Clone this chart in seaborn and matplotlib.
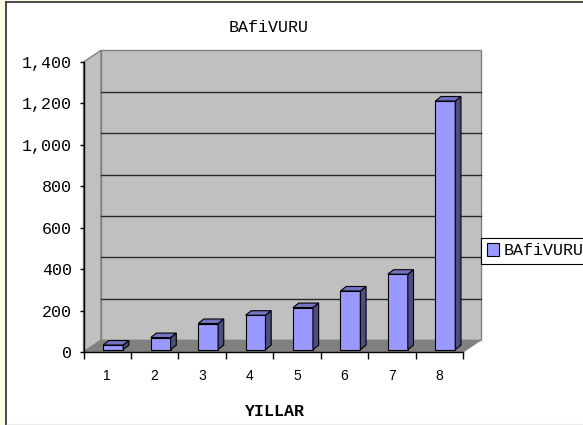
import numpy as np
import pandas as pd
import matplotlib
matplotlib.use("Agg")
import matplotlib.pyplot as plt
import seaborn as sns
from matplotlib.patches import Polygon, Rectangle
from matplotlib.lines import Line2D
from matplotlib.transforms import ScaledTranslation

# ---- data ----
years = ["1", "2", "3", "4", "5", "6", "7", "8"]
values = [22, 58, 126, 166, 203, 283, 364, 1200]
series_name = "BAfiVURU"
title_text = "BAfiVURU"
x_title = "YILLAR"
y_ticks = [0, 200, 400, 600, 800, 1000, 1200, 1400]
y_tick_labels = [f"{v:,}" for v in y_ticks]

plt.rcParams["font.family"] = ["Liberation Mono", "DejaVu Sans Mono"]

W, H = 583, 425
fig = plt.figure(figsize=(W / 100, H / 100), dpi=100)
fig.patch.set_facecolor("white")

# axes frame in pixels (front plane)
L, R, B, T = 83.5, 463.0, 352.0, 62.0
ax = fig.add_axes([L / W, 1 - B / H, (R - L) / W, (B - T) / H])
ax.set_facecolor("none")

df = pd.DataFrame({"Yil": years, "Basvuru": values})
sns.barplot(data=df, x="Yil", y="Basvuru", color="#9999ff", saturation=1,
            width=0.42, edgecolor="black", linewidth=0.8, label=series_name,
            ax=ax, zorder=5)

ax.set_xlim(-0.5, 7.5)
ax.set_ylim(0, 1400)

pxx = (R - L) / 8.0
pxy = (B - T) / 1400.0
DX = 17.5 / pxx
DY = 11.7 / pxy

# ---- 3D bar faces ----
off = ax.transData + ScaledTranslation(6 / 100, 2.4 / 100, fig.dpi_scale_trans)
sdx = 5.7 / pxx
sdy = 4.5 / pxy
for p in list(ax.containers[0]):
    x0 = p.get_x(); w = p.get_width(); h = p.get_height()
    p.set_transform(off)
    p.set_clip_on(False)
    side = Polygon([(x0 + w, 0), (x0 + w, h), (x0 + w + sdx, h + sdy), (x0 + w + sdx, sdy)],
                   closed=True, fc="#4d4d80", ec="black", lw=0.8, transform=off,
                   zorder=5, clip_on=False)
    top = Polygon([(x0, h), (x0 + w, h), (x0 + w + sdx, h + sdy), (x0 + sdx, h + sdy)],
                  closed=True, fc="#7373c0", ec="black", lw=0.8, transform=off,
                  zorder=5, clip_on=False)
    ax.add_patch(side)
    ax.add_patch(top)

# ---- walls and floor ----
ax.add_patch(Rectangle((-0.5 + DX, DY), 8, 1400, fc="#c0c0c0", ec="#808080", lw=1,
                       clip_on=False, zorder=0.5))
ax.add_patch(Polygon([(-0.5, 0), (-0.5, 1400), (-0.5 + DX, 1400 + DY), (-0.5 + DX, DY)],
                     closed=True, fc="#c0c0c0", ec="#808080", lw=1, clip_on=False, zorder=0.6))
for v in y_ticks[1:-1]:
    ax.plot([-0.5 + DX, 7.5 + DX], [v + DY, v + DY], color="#2a2a2a", lw=1,
            clip_on=False, zorder=0.7)
ax.add_patch(Polygon([(-0.5, 0), (7.5, 0), (7.5 + DX, DY), (-0.5 + DX, DY)],
                     closed=True, fc="#808080", ec="#808080", lw=0.8, clip_on=False, zorder=1))

# ---- axes styling ----
for s in ["top", "right"]:
    ax.spines[s].set_visible(False)
for s in ["left", "bottom"]:
    ax.spines[s].set_color("black")
    ax.spines[s].set_linewidth(1)
    ax.spines[s].set_zorder(2)

ax.set_yticks(y_ticks)
ax.set_yticklabels(y_tick_labels)
ax.tick_params(axis="y", direction="out", length=3, width=1, color="black",
               labelsize=12, pad=5.5)

ax.set_xticks(range(len(years)))
ax.set_xticklabels(years, family=["Liberation Sans", "DejaVu Sans"], fontsize=10)
ax.tick_params(axis="x", which="major", length=0, pad=12)
ax.set_xticks(np.arange(-0.5, 8, 1), minor=True)
ax.tick_params(axis="x", which="minor", direction="out", length=5, width=1, color="black")

ax.set_ylabel("")
ax.set_xlabel(x_title, fontweight="bold", fontsize=12, va="center")
ax.xaxis.set_label_coords((274 - L) / (R - L), -(411.7 - B) / (B - T))

ax.set_title(title_text, x=(269 - L) / (R - L), y=1 + (T - 27.3) / (B - T),
             va="center", fontsize=12, pad=0)

# ---- legend ----
handles, labels = ax.get_legend_handles_labels()
leg = ax.legend(handles, labels, loc="upper left",
                bbox_to_anchor=(481 / W, 1 - 237.7 / H), bbox_transform=fig.transFigure,
                borderaxespad=0, frameon=True, fancybox=False, edgecolor="black",
                framealpha=1, handlelength=0.72, handleheight=0.75, handletextpad=0.32,
                borderpad=0.34, fontsize=12)
leg.get_frame().set_linewidth(0.8)
leg.set_zorder(20)

# ---- outer frame ----
fig.add_artist(Rectangle((0, 0), 5.5 / W, 1, transform=fig.transFigure,
                         fc="#fffce6", ec="none", zorder=-10))
fig.add_artist(Rectangle((0, 1 - 1.4 / H), 1, 1.4 / H, transform=fig.transFigure,
                         fc="#fffce6", ec="none", zorder=-10))
fig.add_artist(Line2D([6.3 / W, 6.3 / W], [0, 1 - 2.1 / H], transform=fig.transFigure,
                      color="#3c3c3c", lw=1.3))
fig.add_artist(Line2D([6.3 / W, 1], [1 - 2.1 / H, 1 - 2.1 / H], transform=fig.transFigure,
                      color="#3c3c3c", lw=1.3))
fig.add_artist(Line2D([7 / W, 1], [0.6 / H, 0.6 / H], transform=fig.transFigure,
                      color="#ececec", lw=1))

fig.savefig("out.png", dpi=100)
